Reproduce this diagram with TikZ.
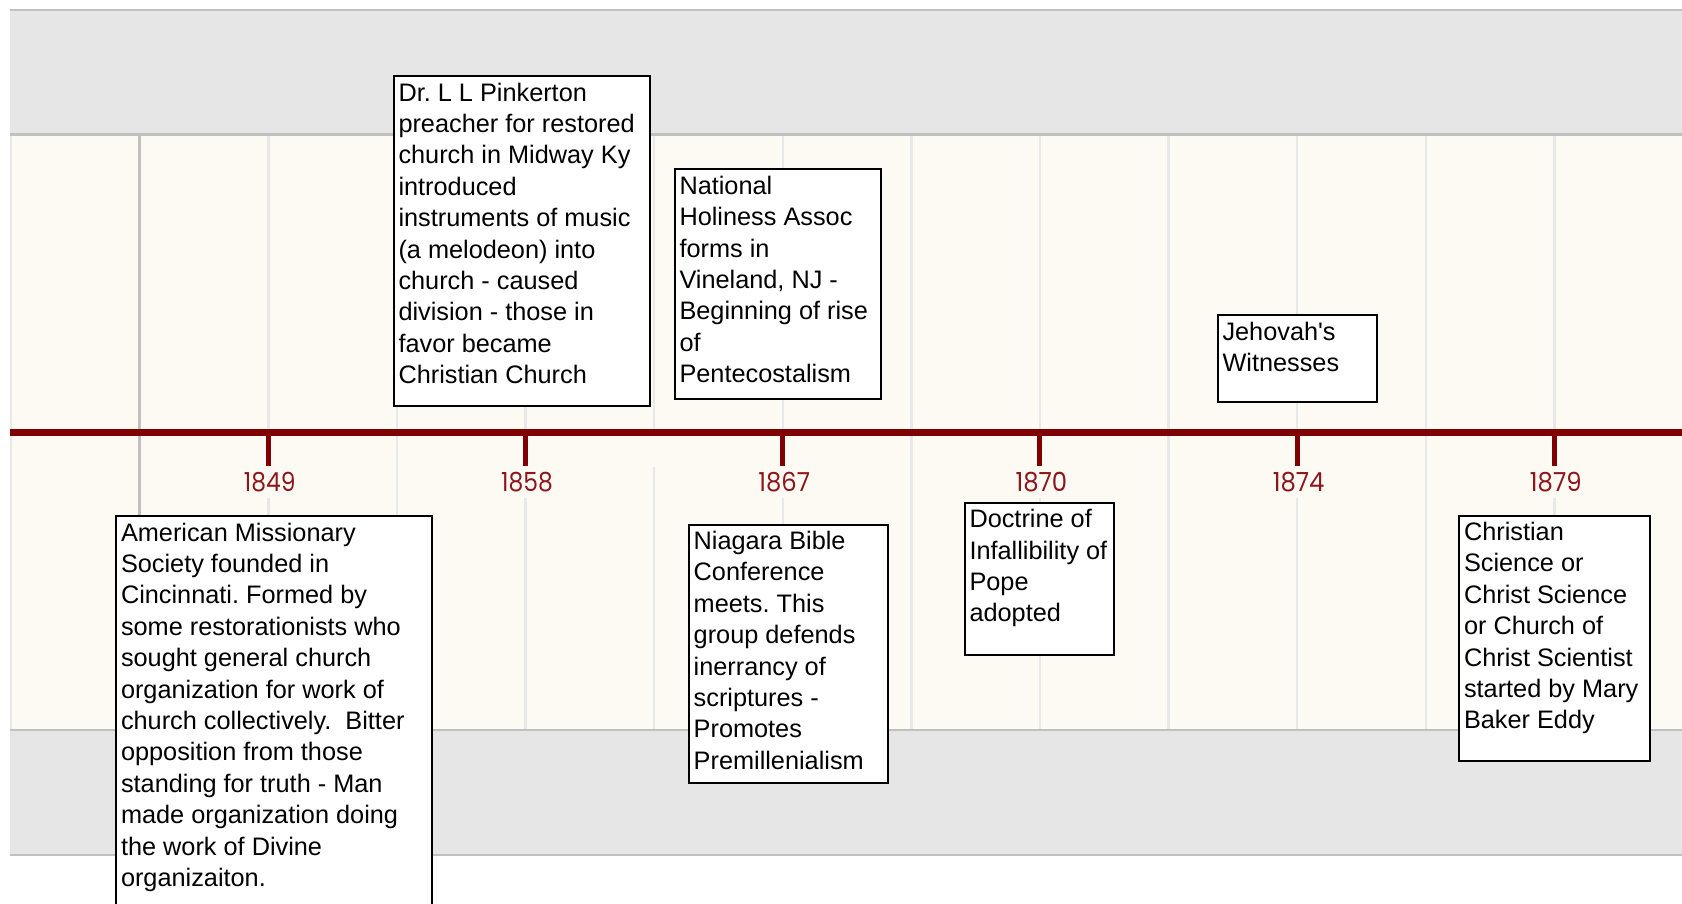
\documentclass[tikz,border=0pt]{standalone}
\usepackage{fontspec}
\usepackage{graphicx}
\newfontfamily\boxfont{Liberation Sans}
\newfontfamily\yrfont{Poppins}
\definecolor{bandgray}{RGB}{230,230,230}
\definecolor{bandline}{RGB}{192,192,192}
\definecolor{cream}{RGB}{252,250,243}
\definecolor{gridlight}{RGB}{232,232,232}
\definecolor{mainred}{RGB}{128,0,0}
\definecolor{yearred}{RGB}{140,22,28}
\frenchspacing
\newcommand{\evt}[1]{\parbox[t]{400pt}{\boxfont\fontsize{25.3pt}{31.4pt}\selectfont\raggedright #1}}
\newcommand{\yr}[1]{\resizebox{51.7pt}{19.3pt}{\yrfont #1}}
\tikzset{
  bandrule/.style={draw=bandline, line width=2.5pt},
  gline/.style={draw=gridlight, line width=2.4pt},
  gdark/.style={draw=bandline, line width=2.6pt},
  mainline/.style={draw=mainred, line width=6.3pt},
  yrtick/.style={draw=mainred, line width=5pt},
  yearlbl/.style={fill=cream, inner xsep=3pt, inner ysep=6.35pt, outer sep=0pt},
  evbox/.style={draw=black, line width=2pt, fill=white, inner sep=0pt, outer sep=0pt, anchor=north west},
  evtext/.style={anchor=base west, inner sep=0pt, outer sep=0pt}
}
\begin{document}
\begin{tikzpicture}[x=1pt,y=-1pt]
\clip (0,0) rectangle (1682,903);
\fill[white] (0,0) rectangle (1682,903);
% bands
\fill[bandgray] (10,10) rectangle (1682,135);
\fill[cream] (10,135) rectangle (1682,730);
\fill[bandgray] (10,730) rectangle (1682,855);
% grid lines
\draw[gline] (11,135) -- (11,730);
\foreach \i in {1,2,3,5,6,7,8,9,10,11} {
  \draw[gline] ({139.7+128.6*\i},135) -- ({139.7+128.6*\i},730);
}
\draw[gline] ({139.7+128.6*4},135) -- ({139.7+128.6*4},432);
\draw[gline] ({139.7+128.6*4},467) -- ({139.7+128.6*4},730);
\draw[gdark] (139.7,135) -- (139.7,730);
% band borders
\draw[bandrule] (10,10) -- (1682,10);
\draw[bandrule] (10,134.5) -- (1682,134.5);
\draw[bandrule] (10,730) -- (1682,730);
\draw[bandrule] (10,855) -- (1682,855);
% main line and ticks
\draw[mainline] (10,432.5) -- (1682,432.5);
\foreach \i/\y in {1/1849,3/1858,5/1867,7/1870,9/1874,11/1879} {
  \draw[yrtick] ({139.7+128.6*\i},432.5) -- ({139.7+128.6*\i},467.7);
  \node[yearlbl] (y\y) at ({139.7+128.6*\i+1.5},482) {\textcolor{yearred}{\yr{\y}}};
}
% event boxes
\node[evbox, minimum width=256pt, minimum height=330.5pt] (pink) at (393.5,75.5) {};
\node[evtext] (pinkT) at ([xshift=5pt,yshift=-25.5pt]pink.north west) {\evt{Dr. L L Pinkerton\\preacher for restored\\church in Midway Ky\\introduced\\instruments of music\\(a melodeon) into\\church - caused\\division - those in\\favor became\\Christian Church}};

\node[evbox, minimum width=206pt, minimum height=230pt] (natl) at (674.5,169) {};
\node[evtext] (natlT) at ([xshift=5pt,yshift=-25.3pt]natl.north west) {\evt{National\\Holiness Assoc\\forms in\\Vineland, NJ -\\Beginning of rise\\of\\Pentecostalism}};

\node[evbox, minimum width=159pt, minimum height=87.5pt] (jeho) at (1217.5,314.5) {};
\node[evtext] (jehoT) at ([xshift=5pt,yshift=-25.5pt]jeho.north west) {\evt{Jehovah\textquotesingle s\\Witnesses}};

\node[evbox, minimum width=315.5pt, minimum height=420pt] (amer) at (116,516) {};
\node[evtext] (amerT) at ([xshift=5pt,yshift=-25pt]amer.north west) {\evt{American Missionary\\Society founded in\\Cincinnati. Formed by\\some restorationists who\\sought general church\\organization for work of\\church collectively.\ \ Bitter\\opposition from those\\standing for truth - Man\\made organization doing\\the work of Divine\\organizaiton.}};

\node[evbox, minimum width=199.6pt, minimum height=258.3pt] (niag) at (688.7,524.7) {};
\node[evtext] (niagT) at ([xshift=5pt,yshift=-24.8pt]niag.north west) {\evt{Niagara Bible\\Conference\\meets. This\\group defends\\inerrancy of\\scriptures -\\Promotes\\Premillenialism}};

\node[evbox, minimum width=149.3pt, minimum height=152pt] (doct) at (964.5,502.7) {};
\node[evtext] (doctT) at ([xshift=5pt,yshift=-25pt]doct.north west) {\evt{Doctrine of\\Infallibility of\\Pope\\adopted}};

\node[evbox, minimum width=191pt, minimum height=245.5pt] (chri) at (1459,515.5) {};
\node[evtext] (chriT) at ([xshift=5pt,yshift=-25pt]chri.north west) {\evt{Christian\\Science or\\Christ Science\\or Church of\\Christ Scientist\\started by Mary\\Baker Eddy}};
\end{tikzpicture}
\end{document}
